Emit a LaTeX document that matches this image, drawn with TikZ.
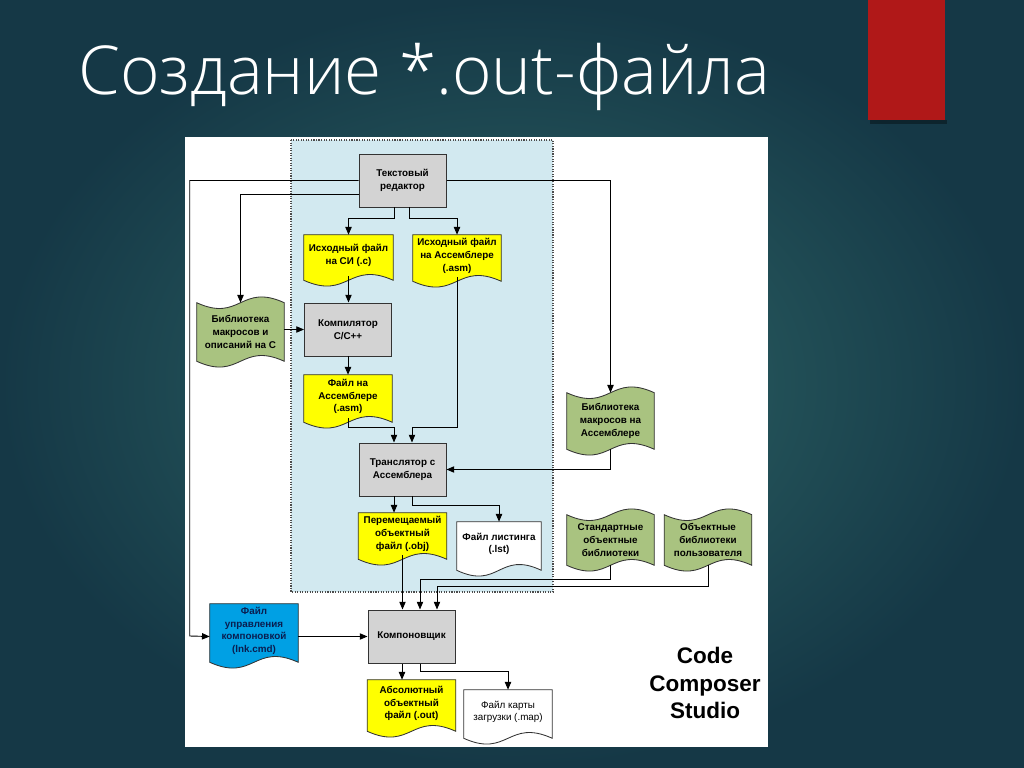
\documentclass[tikz,border=0pt]{standalone}
\usepackage{fontspec}
\setmainfont{Liberation Sans}
\IfFontExistsTF{Open Sans Light}
  {\newfontfamily\titlefont{Open Sans Light}}
  {\newfontfamily\titlefont{Open Sans}}
\usetikzlibrary{arrows.meta,calc,backgrounds}

\definecolor{slidedark}{RGB}{21,56,70}
\definecolor{slidelight}{RGB}{47,104,104}
\definecolor{barred}{RGB}{176,24,24}
\definecolor{zonebl}{RGB}{210,233,240}
\definecolor{procgray}{RGB}{211,211,211}
\definecolor{docyel}{RGB}{255,255,0}
\definecolor{libgreen}{RGB}{169,195,128}
\definecolor{ctlblue}{RGB}{0,160,228}
\definecolor{ctltext}{RGB}{10,30,80}

\tikzset{
  boxfont/.style={font=\fontsize{7}{9}\selectfont\bfseries},
  proc/.style={boxfont, draw=black!80, fill=procgray, line width=0.7pt,
    minimum width=21.75mm, minimum height=13.25mm, align=center, inner sep=1pt},
  doc/.style={boxfont, minimum width=22mm, align=center, inner sep=1pt},
  lib/.style={boxfont, minimum width=21.75mm, align=center, inner sep=1pt},
  arr/.style={draw=black, line width=0.65pt, -{Triangle[length=5.5pt,width=4.5pt]}},
}

% document outline with a wavy bottom, drawn behind a named node
\newcommand{\docshape}[2]{%
  \filldraw[fill=#2, draw=black!80, line width=0.6pt]
    (#1.north west) -- (#1.north east) -- ($(#1.south east)+(0,4)$)
    .. controls ($(#1.south)+(0,-16)$) and ($(#1.south)+(0,24)$) .. ($(#1.south west)+(0,4)$) -- cycle;}
% library outline, wavy at top and bottom
\newcommand{\libshape}[1]{%
  \filldraw[fill=libgreen, draw=black!80, line width=0.6pt]
    (#1.north west) .. controls ($(#1.north)+(0,20)$) and ($(#1.north)+(0,-20)$) .. (#1.north east)
    -- (#1.south east) .. controls ($(#1.south)+(0,-20)$) and ($(#1.south)+(0,20)$) .. (#1.south west) -- cycle;}

\begin{document}
\begin{tikzpicture}[x=0.25mm, y=-0.25mm]
  \begin{scope}[on background layer]
    \shade[inner color=slidelight, outer color=slidedark] (0,0) rectangle (1024,767);
    \fill[black, opacity=0.35] (870,120) rectangle (947,124);
    \fill[barred] (868,0) rectangle (945,120);
    \fill[white] (185,137) rectangle (768,747);
    \filldraw[fill=zonebl, draw=black!70, densely dotted, line width=0.8pt] (291,140) rectangle (553,592);
  \end{scope}

  \node[anchor=base west, inner sep=0, text=white, font=\titlefont\fontsize{48}{52}\selectfont] (title) at (78,95) {Создание *.out-файла};

  \node[proc] (ted) at (402.5,180.5) {Текстовый\\редактор};
  \node[doc, minimum width=22.25mm, minimum height=10.25mm] (srcc) at (348.5,255.5) {Исходный файл\\на СИ (.c)};
  \node[doc, minimum height=10.5mm] (srcasm) at (457,256) {Исходный файл\\на Ассемблере\\(.asm)};
  \node[lib, minimum height=14.5mm] (libc) at (240.5,332) {Библиотека\\макросов и\\описаний на С};
  \node[proc] (comp) at (348,329.5) {Компилятор\\C/C++};
  \node[doc, minimum height=10.75mm] (asmfile) at (348,396.5) {Файл на\\Ассемблере\\(.asm)};
  \node[proc] (asmtr) at (402.5,469.5) {Транслятор с\\Ассемблера};
  \node[lib, minimum height=14mm] (libasm) at (610.5,421) {Библиотека\\макросов на\\Ассемблере};
  \node[doc, minimum height=10.5mm] (obj) at (402.5,534) {Перемещаемый\\объектный\\файл (.obj)};
  \node[doc, minimum width=21mm, minimum height=11mm] (lst) at (499,544) {Файл листинга\\(.lst)};
  \node[lib, minimum height=12.5mm] (stdlib) at (610.5,540) {Стандартные\\объектные\\библиотеки};
  \node[lib, minimum height=12.5mm] (usrlib) at (708,540) {Объектные\\библиотеки\\пользователя};
  \node[doc, minimum height=13.5mm, text=ctltext] (ctl) at (254,631) {Файл\\управления\\компоновкой\\(lnk.cmd)};
  \node[proc] (link) at (411.5,636.5) {Компоновщик};
  \node[doc, minimum height=11.75mm] (absout) at (411.5,703.5) {Абсолютный\\объектный\\файл (.out)};
  \node[doc, minimum height=11mm, font=\fontsize{7}{9}\selectfont] (map) at (508,712) {Файл карты\\загрузки (.map)};
  \node[font=\fontsize{16}{19.6}\selectfont\bfseries, align=center] (ccs) at (705,683) {Code\\Composer\\Studio};

  \begin{scope}[on background layer]
    \foreach \n/\c in {srcc/docyel, srcasm/docyel, asmfile/docyel, obj/docyel,
                       absout/docyel, lst/white, map/white, ctl/ctlblue}
      {\docshape{\n}{\c}}
    \foreach \n in {libc, libasm, stdlib, usrlib}
      {\libshape{\n}}
  \end{scope}

  %% connectors
  \draw[arr] (ted.west) -| ($(ctl.west)+(-20,5)$) -- (ctl.west |- link.west);
  \draw[arr] ($(ted.west)+(0,14)$) -| (libc.north);
  \draw[arr] (ted.east) -| (libasm.north);
  \draw[arr] ($(ted.south)+(-8,0)$) -- ++(0,11) -| (srcc.north);
  \draw[arr] ($(ted.south)+(7,0)$) -- ++(0,11) -| (srcasm.north);
  \draw[arr] (srcc.south) -- (srcc.south |- comp.north);
  \draw[arr] (libc.east |- comp.west) -- (comp.west);
  \draw[arr] (comp.south) -- (asmfile.north);
  \draw[arr] (asmfile.south) -- ++(0,9) -| ($(asmtr.north)+(-8.5,0)$);
  \draw[arr] (srcasm.south) -- ++(0,150) -| ($(asmtr.north)+(9.5,0)$);
  \draw[arr] (libasm.south) |- (asmtr.east);
  \draw[arr] ($(asmtr.south)+(-8.5,0)$) -- ($(obj.north)+(-8.5,0)$);
  \draw[arr] ($(asmtr.south)+(9.5,0)$) -- ++(0,9) -| (lst.north);
  \draw[arr] (obj.south) -- (obj.south |- link.north);
  \draw[arr] (stdlib.south) -- ++(0,14) -| ($(link.north)+(8.5,0)$);
  \draw[arr] (usrlib.south) -- ++(0,21) -| ($(link.north)+(25.5,0)$);
  \draw[arr] (ctl.east |- link.west) -- (link.west);
  \draw[arr] ($(link.south)+(-9.5,0)$) -- ($(absout.north)+(-9.5,0)$);
  \draw[arr] ($(link.south)+(8.5,0)$) -- ++(0,8) -| (map.north);
\end{tikzpicture}
\end{document}
